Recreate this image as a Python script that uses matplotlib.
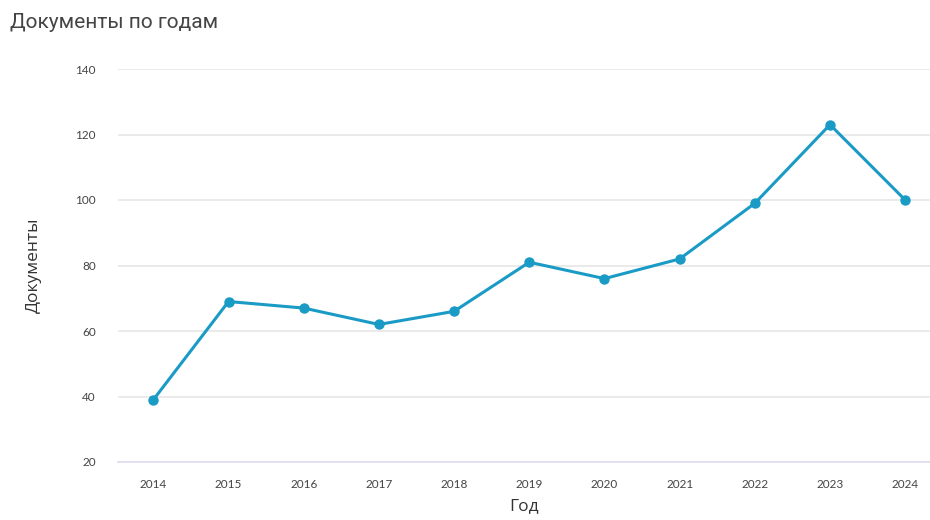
import matplotlib.pyplot as plt

years = [2014, 2015, 2016, 2017, 2018, 2019, 2020, 2021, 2022, 2023, 2024]
docs = [39, 69, 67, 62, 66, 81, 76, 82, 99, 123, 100]
yticks = [20, 40, 60, 80, 100, 120, 140]

plt.rcParams['font.family'] = ['Open Sans', 'DejaVu Sans']

fig = plt.figure(figsize=(9.3, 5.2), dpi=100)
ax = fig.add_axes([118 / 930, 1 - 462 / 520, 1 - 118 / 930, (462 - 69) / 520])

ax.plot(years, docs, color='#1a9bc6', lw=2.2, marker='o', ms=6.5, zorder=3)

ax.set_xlim(2013.53, 2024.33)
ax.set_ylim(20, 140)
ax.set_xticks(years)
ax.set_xticklabels([str(y) for y in years], fontsize=8.5, color='#444444', family=['Lato', 'DejaVu Sans'])
ax.set_yticks(yticks)
ax.set_yticklabels([str(v) for v in yticks], fontsize=8.5, color='#444444', family=['Lato', 'DejaVu Sans'])
ax.tick_params(length=0, axis='y', pad=16)
ax.tick_params(length=0, axis='x', pad=12)

ax.grid(axis='y', color='#e6e6e6', lw=1.2)
ax.set_axisbelow(True)
for s in ['top', 'right', 'left']:
    ax.spines[s].set_visible(False)
ax.spines['bottom'].set_color('#dcdcef')
ax.spines['bottom'].set_linewidth(1.2)

ax.set_xlabel('Год', fontsize=12.5, color='#333333', labelpad=6)
ax.set_ylabel('Документы', fontsize=12.5, color='#333333', labelpad=24)

fig.text(10 / 930, 1 - 22 / 520, 'Документы по годам', fontsize=15, color='#444444',
         va='center', ha='left', family=['Roboto', 'DejaVu Sans'])

fig.savefig('out.png', dpi=100)
